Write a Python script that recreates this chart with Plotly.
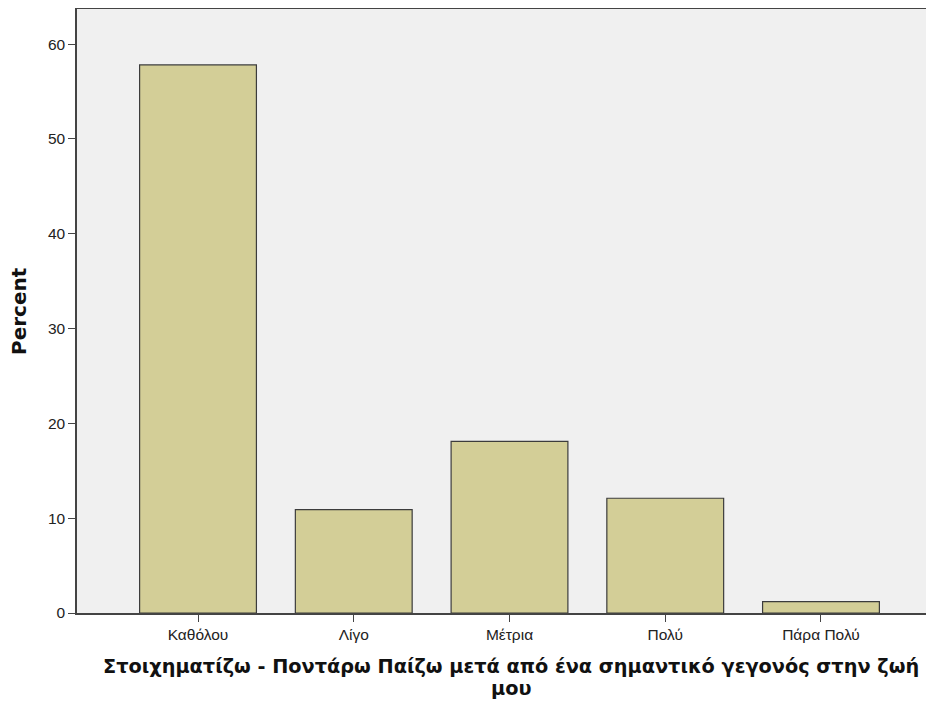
import plotly.graph_objects as go

categories = ["Καθόλου", "Λίγο", "Μέτρια", "Πολύ", "Πάρα Πολύ"]
percent = [57.8, 10.9, 18.1, 12.1, 1.2]
y_ticks = [0, 10, 20, 30, 40, 50, 60]
x_title_line1 = "Στοιχηματίζω - Ποντάρω Παίζω μετά από ένα σημαντικό γεγονός στην ζωή"
x_title_line2 = "μου"
y_title = "Percent"

fig = go.Figure(go.Bar(
    x=list(range(len(categories))),
    y=percent,
    width=0.75,
    marker=dict(color="#D3CE97", line=dict(color="#3C3C3C", width=1.2)),
    hoverinfo="skip",
))

title_font = dict(family="DejaVu Sans, Verdana, sans-serif", size=19.3, weight="bold", color="#111111")

fig.update_layout(
    width=934, height=706,
    margin=dict(l=69, r=0, t=1, b=101, autoexpand=False),
    paper_bgcolor="white",
    plot_bgcolor="#F0F0F0",
    showlegend=False,
    font=dict(family="Liberation Sans, Arial, sans-serif", color="#222222"),
    annotations=[
        dict(text=x_title_line1, xref="paper", yref="paper", x=0.5015, y=0,
             xanchor="center", yanchor="middle", yshift=-53, showarrow=False, font=title_font),
        dict(text=x_title_line2, xref="paper", yref="paper", x=0.5015, y=0,
             xanchor="center", yanchor="middle", yshift=-75, showarrow=False, font=title_font),
        dict(text=y_title, xref="paper", yref="paper", x=0, y=0.5, textangle=-90,
             xanchor="center", yanchor="middle", xshift=-58, showarrow=False,
             font=dict(family="DejaVu Sans, Verdana, sans-serif", size=20, weight="bold", color="#111111")),
    ],
)
fig.update_xaxes(
    range=[-0.777, 4.777],
    tickmode="array",
    tickvals=list(range(len(categories))),
    ticktext=categories,
    ticks="outside", ticklen=7, tickcolor="#444444",
    tickfont=dict(family="Liberation Sans, Arial, sans-serif", size=15.5, color="#222222"),
    showline=True, linecolor="#444444", linewidth=1.5, mirror=True,
    showgrid=False, zeroline=False, automargin=False,
)
fig.update_yaxes(
    range=[0, 63.7],
    tickmode="array",
    tickvals=y_ticks,
    ticks="outside", ticklen=7, tickcolor="#444444",
    tickfont=dict(family="Liberation Sans, Arial, sans-serif", size=15.5, color="#222222"),
    showline=True, linecolor="#444444", linewidth=1.5,
    showgrid=False, zeroline=False, automargin=False,
)

fig.write_html("out.html")
